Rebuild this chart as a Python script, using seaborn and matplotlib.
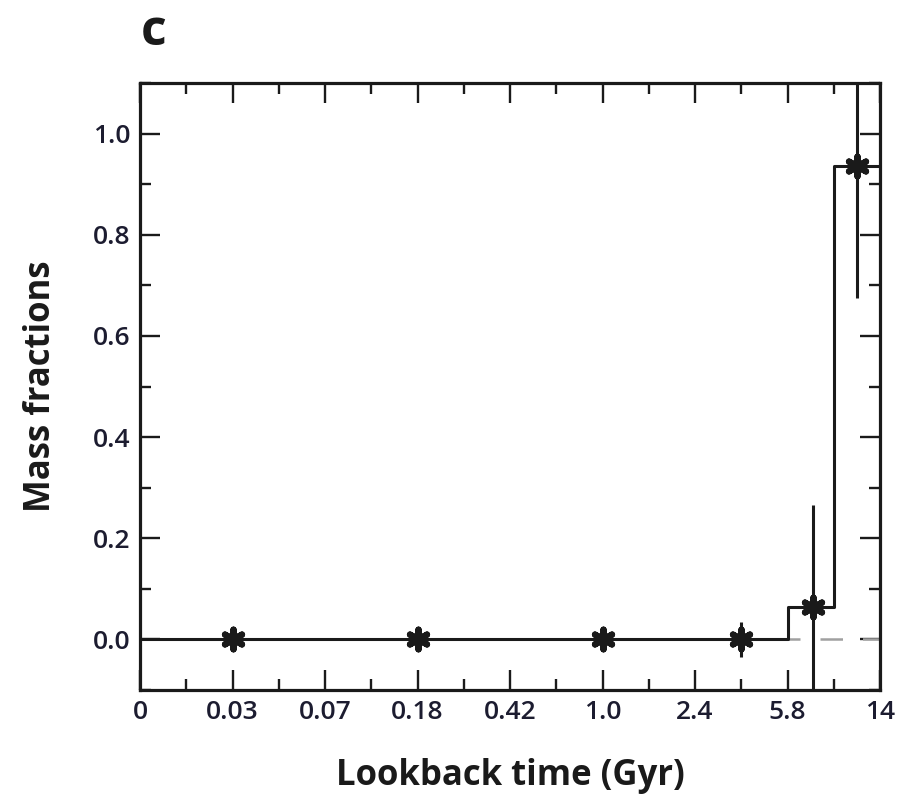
import matplotlib
matplotlib.use("Agg")
import matplotlib.pyplot as plt
import seaborn as sns
import numpy as np
import pandas as pd
from matplotlib.ticker import FixedLocator, MultipleLocator

# ---- data ----
tick_labels = ["0", "0.03", "0.07", "0.18", "0.42", "1.0", "2.4", "5.8", "14"]
y_ticks = [0.0, 0.2, 0.4, 0.6, 0.8, 1.0]
y_tick_labels = ["0.0", "0.2", "0.4", "0.6", "0.8", "1.0"]
# histogram step edges (in tick-index units) and heights
step_edges = [0, 7, 7.5, 8]
step_heights = [0.0, 0.065, 0.935, 0.935]
# measured points (tick-index positions), values and errors
point_pos = [1, 3, 5, 6.5, 7.28, 7.75]
point_val = [0.0, 0.0, 0.0, 0.0, 0.065, 0.935]
point_err = [0.01, 0.01, 0.01, 0.035, 0.20, 0.26]

sns.set_theme(style="white")
plt.rcParams['font.family'] = ['Open Sans', 'DejaVu Sans']

fig = plt.figure(figsize=(9, 7.97), dpi=100)
ax = fig.add_axes([140/900, 1-690/797, 740/900, 607/797])

ax.axhline(0, color="#a0a0a0", lw=1.8, dashes=(9, 8), zorder=1)

df_step = pd.DataFrame({"x": step_edges, "y": step_heights})
sns.lineplot(data=df_step, x="x", y="y", drawstyle="steps-post", color="#1a1a1a",
             lw=2.2, ax=ax, zorder=3, sort=False)

df_pts = pd.DataFrame({"x": point_pos, "y": point_val, "err": point_err})
ax.errorbar(df_pts["x"], df_pts["y"], yerr=df_pts["err"], fmt="none",
            ecolor="#1a1a1a", elinewidth=2.2, capsize=0, zorder=4)
sns.scatterplot(data=df_pts, x="x", y="y", marker=(6, 2, 0), s=200,
                color="#1a1a1a", linewidth=4.5, edgecolor="#1a1a1a", ax=ax, zorder=5)

ax.set_xlim(0, 8)
ax.set_ylim(-0.1, 1.1)
ax.xaxis.set_major_locator(FixedLocator(range(len(tick_labels))))
ax.set_xticklabels(tick_labels)
ax.xaxis.set_minor_locator(MultipleLocator(0.5))
ax.set_yticks(y_ticks)
ax.set_yticklabels(y_tick_labels)
ax.yaxis.set_minor_locator(MultipleLocator(0.1))

txtc = "#1c1c30"
ax.tick_params(which="both", direction="in", top=True, right=True, bottom=True, left=True,
               color="#1a1a1a", labelsize=19, labelcolor=txtc)
ax.tick_params(which="major", length=14.5, width=1.7, pad=7)
ax.tick_params(which="minor", length=8, width=1.7)
for lab in ax.get_xticklabels() + ax.get_yticklabels():
    lab.set_fontweight("semibold")
for s in ax.spines.values():
    s.set_linewidth(2.3)
    s.set_color("#1a1a1a")
    s.set_visible(True)

ax.set_xlabel("Lookback time (Gyr)", fontsize=25, fontweight="bold", color="#1a1a1a")
ax.set_ylabel("Mass fractions", fontsize=25, fontweight="bold", color="#1a1a1a")
ax.xaxis.set_label_coords(0.5, -0.112)
ax.yaxis.set_label_coords(-0.110, 0.5)
ax.grid(False)

fig.text(141/900, 1-32/797, "c", fontsize=36, fontweight="bold", color="#1a1a1a",
         ha="left", va="center")

fig.savefig("out.png", dpi=100)
